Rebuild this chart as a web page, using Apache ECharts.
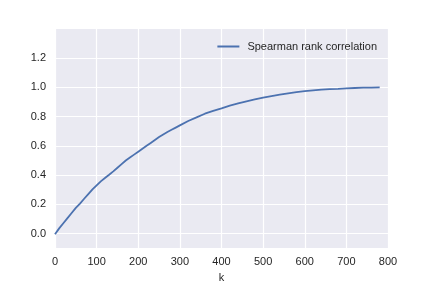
<!DOCTYPE html>
<html><head><meta charset="utf-8">
<script src="https://cdn.jsdelivr.net/npm/echarts@6/dist/echarts.min.js"></script>
<style>html,body{margin:0;padding:0;background:#fff}#c{width:432px;height:288px}</style>
</head><body><div id="c"></div>
<script>
const kValues = [0,10,20,30,40,50,60,70,80,90,100,110,120,130,140,150,160,170,180,190,200,210,220,230,240,250,260,270,280,290,300,320,340,360,380,400,420,440,460,480,500,520,540,560,580,600,620,640,660,680,700,720,740,760,780];
const spearman = [-0.005,0.035,0.07,0.105,0.14,0.175,0.205,0.238,0.27,0.302,0.33,0.357,0.38,0.402,0.425,0.45,0.475,0.5,0.52,0.54,0.56,0.58,0.60,0.62,0.64,0.66,0.678,0.695,0.71,0.725,0.74,0.77,0.795,0.82,0.84,0.857,0.875,0.89,0.905,0.918,0.93,0.94,0.95,0.96,0.968,0.975,0.98,0.985,0.988,0.99,0.993,0.996,0.998,0.999,1.0];
const seriesName = 'Spearman rank correlation';
const xTicks = [0,100,200,300,400,500,600,700,800];
const yTicks = [0.0,0.2,0.4,0.6,0.8,1.0,1.2];

const chart = echarts.init(document.getElementById('c'), null, {renderer:'canvas'});
const font = 'Liberation Sans, Arial, sans-serif';
chart.setOption({
  animation:false,
  backgroundColor:'#ffffff',
  grid:{left:55,right:44,top:29,bottom:36,show:true,backgroundColor:'#EAEAF2',borderWidth:0},
  legend:{
    right:50, top:36, icon:'rect', itemWidth:22, itemHeight:2,
    data:[seriesName],
    textStyle:{fontFamily:font,fontSize:11,color:'#262626',padding:[0,0,0,3]}
  },
  xAxis:{
    type:'value', min:0, max:800, interval:100,
    name:'k', nameLocation:'middle', nameGap:22,
    nameTextStyle:{fontFamily:font,fontSize:11,color:'#262626'},
    axisLine:{show:false}, axisTick:{show:false},
    axisLabel:{fontFamily:font,fontSize:11,color:'#262626',margin:8},
    splitLine:{lineStyle:{color:'#ffffff',width:1.2}}
  },
  yAxis:{
    type:'value', min:-0.1, max:1.4,
    axisLine:{show:false},
    axisTick:{show:false, customValues:yTicks},
    axisLabel:{fontFamily:font,fontSize:11,color:'#262626',margin:9,
      customValues:yTicks, formatter:v=>v.toFixed(1)},
    splitLine:{lineStyle:{color:'#ffffff',width:1.2}}
  },
  series:[{
    name:seriesName, type:'line', showSymbol:false,
    data:kValues.map((k,i)=>[k,spearman[i]]),
    lineStyle:{color:'#4C72B0',width:1.8}, itemStyle:{color:'#4C72B0'}
  }]
});
</script></body></html>
